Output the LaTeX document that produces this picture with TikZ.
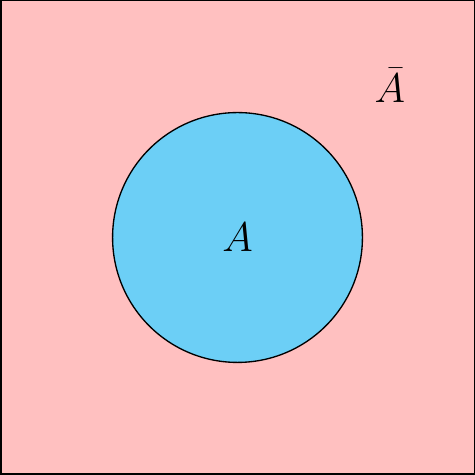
\documentclass[tikz,border=0pt]{standalone}
\definecolor{pinkbg}{RGB}{255,192,192}
\definecolor{bluec}{RGB}{108,207,246}
\begin{document}
\begin{tikzpicture}
\tikzset{lbl/.style={font=\fontsize{24}{28}\selectfont}}
\node[draw=black,line width=0.9pt,fill=pinkbg,minimum size=10cm-0.9pt,inner sep=0pt,outer sep=0pt] (univ) at (5,5) {};
\useasboundingbox (0,0) rectangle (10,10);
\node[circle,draw=black,line width=0.8pt,fill=bluec,minimum size=5.26cm,inner sep=0pt] (setA) at (5,5) {};
\node[lbl] (la) at (setA.center) {$A$};
\node[lbl] (lab) at (8.21,8.2) {$\bar{A}$};
\end{tikzpicture}
\end{document}
